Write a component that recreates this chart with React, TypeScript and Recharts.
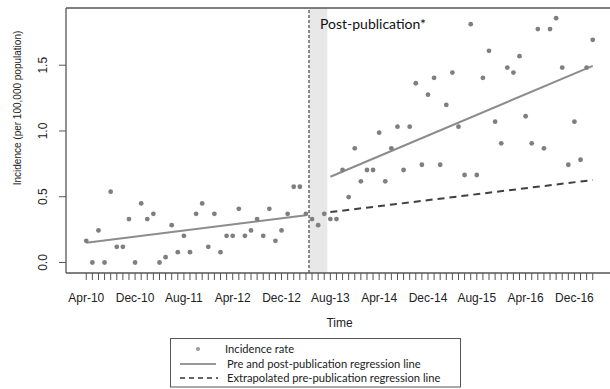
import React from "react";
import {
  ComposedChart,
  Scatter,
  Line,
  XAxis,
  YAxis,
  ReferenceLine,
  ReferenceArea,
  Legend,
} from "recharts";

// x-axis labels, one every 8 months starting at month 0 (Apr-10)
const tickLabels = [
  "Apr-10", "Dec-10", "Aug-11", "Apr-12", "Dec-12", "Aug-13",
  "Apr-14", "Dec-14", "Aug-15", "Apr-16", "Dec-16",
];

// monthly incidence rate, Apr-10 .. Mar-17 (per 100,000)
const incidence = [
  0.165, 0, 0.244, 0, 0.538, 0.119, 0.119, 0.33, 0, 0.449, 0.33, 0.37,
  0, 0.04, 0.284, 0.078, 0.203, 0.078, 0.37, 0.449, 0.119, 0.37, 0.078, 0.203,
  0.203, 0.408, 0.203, 0.244, 0.33, 0.203, 0.408, 0.165, 0.244, 0.37, 0.576, 0.576,
  0.37, 0.33, 0.284, 0.37, 0.33, 0.33, 0.703, 0.497, 0.868, 0.617, 0.703, 0.703,
  0.987, 0.617, 0.868, 1.033, 0.703, 1.033, 1.363, 0.743, 1.276, 1.404, 0.743, 1.198,
  1.444, 1.033, 0.665, 1.812, 0.665, 1.404, 1.609, 1.071, 0.906, 1.482, 1.444, 1.569,
  1.112, 0.906, 1.775, 0.868, 1.775, 1.858, 1.482, 0.743, 1.071, 0.781, 1.482, 1.693,
];

// regression line end points: [month, value]
const preLine = [[0, 0.15], [36, 0.36]];
const postLine = [[40, 0.652], [83, 1.495]];
const extrapolated = [[40, 0.383], [83, 0.627]];

// publication marker and the grey lag window
const publication = 36.5;
const lagEnd = 39.5;

const legendLabels = [
  "Incidence rate",
  "Pre and post-publication regression line",
  "Extrapolated pre-publication regression line",
];

const valueAt = (pts: number[][], m: number) => {
  const p = pts.find((d) => d[0] === m);
  return p ? p[1] : null;
};

const chartData = incidence.map((rate, month) => ({
  month,
  rate,
  pre: valueAt(preLine, month),
  post: valueAt(postLine, month),
  extra: valueAt(extrapolated, month),
}));

const monthTicks = incidence.map((_, i) => i);

const AXIS_FONT = "'Liberation Sans', Arial, sans-serif";
const NOTE_FONT = "Lato, 'Open Sans', sans-serif";

const Dot = (props: any) => (
  <circle cx={props.cx} cy={props.cy} r={2.4} fill="#7f7f7f" />
);

const YTick = (props: any) => {
  const { y, payload } = props;
  return (
    <text
      x={47.5}
      y={y}
      transform={`rotate(-90, 47.5, ${y})`}
      textAnchor="middle"
      fontSize={12}
      fontFamily={AXIS_FONT}
      fill="#222"
    >
      {payload.value.toFixed(1)}
    </text>
  );
};

const YTitle = () => (
  <text
    x={20.5}
    y={108}
    transform="rotate(-90, 20.5, 108)"
    textAnchor="middle"
    fontSize={10}
    fontFamily={AXIS_FONT}
    fill="#222"
  >
    Incidence (per 100,000 population)
  </text>
);

const LegendBox = () => (
  <svg width={292} height={50}>
    <rect x={0.5} y={0.5} width={290} height={48.5} fill="#fff" stroke="#555" />
    <circle cx={28} cy={11} r={2} fill="#999" />
    <line x1={10} y1={26} x2={46} y2={26} stroke="#777" strokeWidth={1.3} />
    <line x1={10} y1={40} x2={48} y2={40} stroke="#333" strokeWidth={1.5} strokeDasharray="5 4" />
    {legendLabels.map((t, i) => (
      <text
        key={t}
        x={i === 0 ? 55 : 57}
        y={15 + i * 14.5}
        fontSize={11.2}
        fontFamily={NOTE_FONT}
        fill="#222"
      >
        {t}
      </text>
    ))}
  </svg>
);

export default function App() {
  return (
    <div
      style={{
        position: "absolute",
        left: 0,
        top: 0,
        width: 610,
        height: 389,
        overflow: "hidden",
        background: "#fff",
      }}
    >
      <ComposedChart
        width={620}
        height={389}
        data={chartData}
        margin={{ top: 0, right: 7, bottom: 0, left: 0 }}
      >
        <ReferenceArea
          x1={publication}
          x2={lagEnd}
          fill="#e8e8e8"
          fillOpacity={1}
          stroke="none"
          label={{
            value: "Post-publication*",
            position: "insideTopLeft",
            offset: 11,
            fontSize: 14,
            fontFamily: NOTE_FONT,
            fill: "#111",
          }}
        />
        <ReferenceLine x={publication} stroke="#222" strokeDasharray="3 2" />

        <XAxis
          dataKey="month"
          type="number"
          domain={[-3.32, 86.32]}
          allowDataOverflow
          ticks={monthTicks}
          interval={0}
          tickFormatter={(m: number) => (m % 8 === 0 ? tickLabels[m / 8] : "")}
          tickSize={7}
          tickMargin={13.5}
          height={116}
          tick={{ fontSize: 12, fontFamily: AXIS_FONT, fill: "#222" }}
          tickLine={{ stroke: "#555" }}
          axisLine={{ stroke: "#555", strokeWidth: 1.3 }}
          label={{
            value: "Time",
            position: "insideTop",
            offset: 45,
            fontSize: 12,
            fontFamily: AXIS_FONT,
            fill: "#222",
          }}
        />
        {/* top edge of the plot frame */}
        <XAxis
          xAxisId="top"
          orientation="top"
          type="number"
          domain={[-3.32, 86.32]}
          tick={false}
          tickLine={false}
          height={8}
          axisLine={{ stroke: "#555", strokeWidth: 1.3 }}
        />
        <YAxis
          type="number"
          domain={[-0.08, 1.935]}
          allowDataOverflow
          ticks={[0, 0.5, 1, 1.5]}
          width={66}
          tickSize={7}
          tick={<YTick />}
          tickLine={{ stroke: "#555" }}
          axisLine={{ stroke: "#555", strokeWidth: 1.3 }}
          label={<YTitle />}
        />

        <Line
          dataKey="pre"
          type="linear"
          connectNulls
          stroke="#8c8c8c"
          strokeWidth={2}
          dot={false}
          isAnimationActive={false}
        />
        <Line
          dataKey="post"
          type="linear"
          connectNulls
          stroke="#8c8c8c"
          strokeWidth={2}
          dot={false}
          isAnimationActive={false}
        />
        <Line
          dataKey="extra"
          type="linear"
          connectNulls
          stroke="#404040"
          strokeWidth={2}
          strokeDasharray="7 5"
          dot={false}
          isAnimationActive={false}
        />
        <Scatter dataKey="rate" shape={<Dot />} isAnimationActive={false} />

        <Legend
          layout="vertical"
          align="center"
          verticalAlign="middle"
          wrapperStyle={{ left: 170, top: 338, width: 292, height: 50 }}
          content={<LegendBox />}
        />
      </ComposedChart>
    </div>
  );
}
